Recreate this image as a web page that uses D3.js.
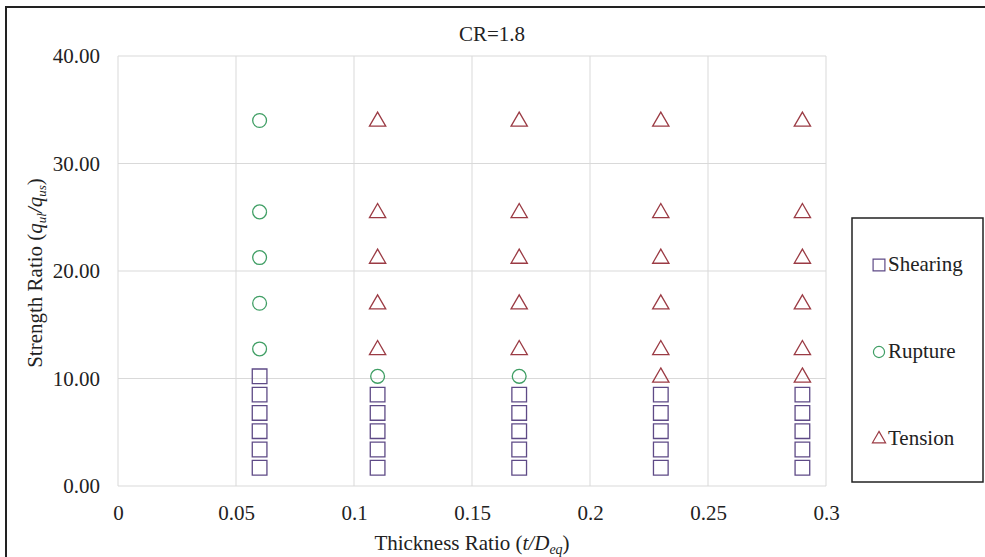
<!DOCTYPE html>
<html>
<head>
<meta charset="utf-8">
<script src="https://cdn.jsdelivr.net/npm/d3@7"></script>
<style>
  body { margin: 0; background: #fff; }
  text { font-family: "Liberation Serif", "DejaVu Serif", serif; fill: #222; }
</style>
</head>
<body>
<div id="chart"></div>
<script>
// data
const shearing = [
  [0.06, 1.7], [0.06, 3.4], [0.06, 5.1], [0.06, 6.8], [0.06, 8.5], [0.06, 10.2],
  [0.11, 1.7], [0.11, 3.4], [0.11, 5.1], [0.11, 6.8], [0.11, 8.5],
  [0.17, 1.7], [0.17, 3.4], [0.17, 5.1], [0.17, 6.8], [0.17, 8.5],
  [0.23, 1.7], [0.23, 3.4], [0.23, 5.1], [0.23, 6.8], [0.23, 8.5],
  [0.29, 1.7], [0.29, 3.4], [0.29, 5.1], [0.29, 6.8], [0.29, 8.5]
];
const rupture = [
  [0.06, 12.75], [0.06, 17], [0.06, 21.25], [0.06, 25.5], [0.06, 34],
  [0.11, 10.2], [0.17, 10.2]
];
const tension = [
  [0.11, 12.75], [0.11, 17], [0.11, 21.25], [0.11, 25.5], [0.11, 34],
  [0.17, 12.75], [0.17, 17], [0.17, 21.25], [0.17, 25.5], [0.17, 34],
  [0.23, 10.2], [0.23, 12.75], [0.23, 17], [0.23, 21.25], [0.23, 25.5], [0.23, 34],
  [0.29, 10.2], [0.29, 12.75], [0.29, 17], [0.29, 21.25], [0.29, 25.5], [0.29, 34]
];
const xTicks = [0, 0.05, 0.1, 0.15, 0.2, 0.25, 0.3];
const yTicks = [0, 10, 20, 30, 40];
const seriesNames = ["Shearing", "Rupture", "Tension"];

const W = 985, H = 557;
const plot = {left: 118, right: 826, top: 56, bottom: 486};

const svg = d3.select("#chart").append("svg")
    .attr("width", W)
    .attr("height", H);

// outer frame
svg.append("rect")
    .attr("x", 6).attr("y", 7)
    .attr("width", W + 10).attr("height", H + 10)
    .attr("fill", "none")
    .attr("stroke", "#222")
    .attr("stroke-width", 2);

const x = d3.scaleLinear().domain([0, 0.3]).range([plot.left, plot.right]);
const y = d3.scaleLinear().domain([0, 40]).range([plot.bottom, plot.top]);

// gridlines
svg.append("g")
    .selectAll("line")
    .data(xTicks)
    .enter().append("line")
    .attr("x1", d => x(d)).attr("x2", d => x(d))
    .attr("y1", plot.top).attr("y2", plot.bottom)
    .attr("stroke", "#d9d9d9").attr("stroke-width", 1);

svg.append("g")
    .selectAll("line")
    .data(yTicks)
    .enter().append("line")
    .attr("x1", plot.left).attr("x2", plot.right)
    .attr("y1", d => y(d)).attr("y2", d => y(d))
    .attr("stroke", "#d9d9d9").attr("stroke-width", 1);

// axes (labels only)
const xAxis = svg.append("g")
    .attr("transform", `translate(0,${plot.bottom})`)
    .call(d3.axisBottom(x).tickValues(xTicks).tickSize(0).tickPadding(19)
        .tickFormat(d => d3.format("")(+d.toFixed(2))));
const yAxis = svg.append("g")
    .attr("transform", `translate(${plot.left},0)`)
    .call(d3.axisLeft(y).tickValues(yTicks).tickSize(0).tickPadding(18)
        .tickFormat(d3.format(".2f")));
[xAxis, yAxis].forEach(a => {
    a.select(".domain").remove();
    a.selectAll("text")
        .attr("font-family", "Liberation Serif")
        .attr("font-size", "21px")
        .attr("fill", "#222");
});

// title
svg.append("text")
    .attr("x", 492).attr("y", 41)
    .attr("text-anchor", "middle")
    .attr("font-size", "21px")
    .text("CR=1.8");

// x axis title
const xt = svg.append("text")
    .attr("x", 472).attr("y", 550)
    .attr("text-anchor", "middle")
    .attr("font-size", "21px");
xt.append("tspan").text("Thickness Ratio (");
xt.append("tspan").attr("font-style", "italic").text("t/D");
xt.append("tspan").attr("font-style", "italic").attr("font-size", "14px").attr("dy", 4).text("eq");
xt.append("tspan").attr("dy", -4).text(")");

// y axis title
const yt = svg.append("text")
    .attr("transform", "translate(42,273) rotate(-90)")
    .attr("text-anchor", "middle")
    .attr("font-size", "21px");
yt.append("tspan").text("Strength Ratio (");
yt.append("tspan").attr("font-style", "italic").text("q");
yt.append("tspan").attr("font-style", "italic").attr("font-size", "13px").attr("dy", 4).text("ul");
yt.append("tspan").attr("font-style", "italic").attr("dy", -4).text("/q");
yt.append("tspan").attr("font-style", "italic").attr("font-size", "13px").attr("dy", 4).text("us");
yt.append("tspan").attr("dy", -4).text(")");

// markers
const styles = {
    Shearing: {type: d3.symbolSquare, size: 215, color: "#5e4a86"},
    Rupture: {type: d3.symbolCircle, size: 150, color: "#3f9e64"},
    Tension: {type: d3.symbolTriangle, size: 115, color: "#9b3b44"}
};
const sets = {Shearing: shearing, Rupture: rupture, Tension: tension};

seriesNames.forEach(name => {
    const st = styles[name];
    svg.append("g")
        .selectAll("path")
        .data(sets[name])
        .enter().append("path")
        .attr("transform", d => `translate(${x(d[0])},${y(d[1]) + (name === "Tension" ? 1 : 0)})`)
        .attr("d", d3.symbol().type(st.type).size(st.size))
        .attr("fill", "none")
        .attr("stroke", st.color)
        .attr("stroke-width", 1.3);
});

// legend
const legend = svg.append("g");
legend.append("rect")
    .attr("x", 852).attr("y", 218)
    .attr("width", 131).attr("height", 264)
    .attr("fill", "#fff")
    .attr("stroke", "#222")
    .attr("stroke-width", 1.5);

const ly = d3.scalePoint().domain(seriesNames).range([264, 438]);
seriesNames.forEach(name => {
    const st = styles[name];
    legend.append("path")
        .attr("transform", `translate(879,${ly(name) + 1})`)
        .attr("d", d3.symbol().type(st.type).size(st.size * 0.65))
        .attr("fill", "none")
        .attr("stroke", st.color)
        .attr("stroke-width", 1.2);
    legend.append("text")
        .attr("x", 888).attr("y", ly(name))
        .attr("dy", "0.35em")
        .attr("font-size", "21px")
        .text(name);
});
</script>
</body>
</html>
